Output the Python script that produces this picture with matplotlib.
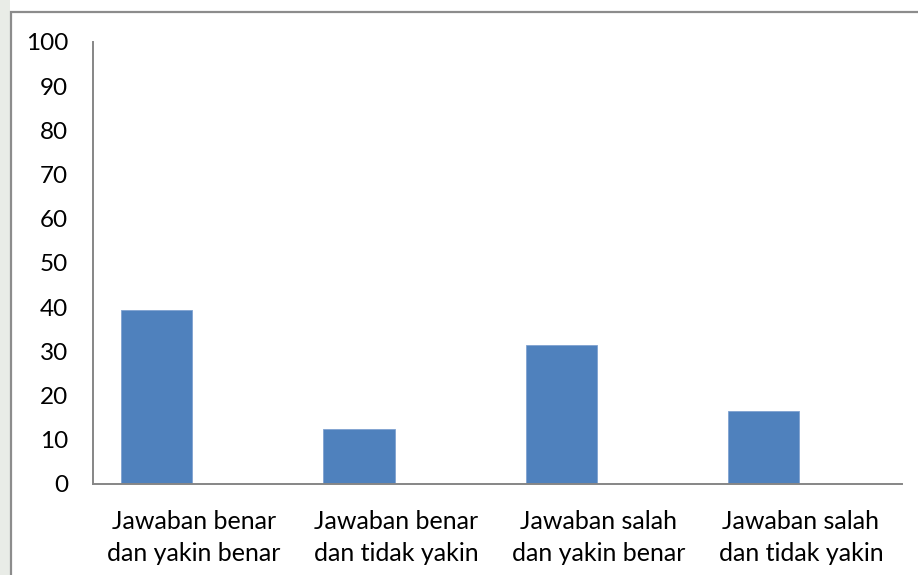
import matplotlib.pyplot as plt
from matplotlib.patches import Rectangle

categories = [
    "Jawaban benar\ndan yakin benar",
    "Jawaban benar\ndan tidak yakin",
    "Jawaban salah\ndan yakin benar",
    "Jawaban salah\ndan tidak yakin",
]
percentages = [39.4, 12.4, 31.4, 16.6]
y_ticks = [0, 10, 20, 30, 40, 50, 60, 70, 80, 90, 100]

BAR_COLOR = "#4f81bd"
AXIS_COLOR = "#868686"
TEXT_COLOR = "#000000"

plt.rcParams["font.family"] = ["Lato", "DejaVu Sans"]

fig = plt.figure(figsize=(9.18, 5.75), dpi=100)
fig.patch.set_facecolor("white")

# page strip left of the chart frame
fig.add_artist(Rectangle((0, 0), 0.011, 1, transform=fig.transFigure,
                         facecolor="#e9ece7", edgecolor="none", zorder=0))
# chart frame (runs off the right and bottom edges)
fig.add_artist(Rectangle((0.012, -0.05), 1.05, 1.05 - 0.021, transform=fig.transFigure,
                         facecolor="white", edgecolor="#8c8c8c", linewidth=1.6, zorder=1))

ax = fig.add_axes([0.1013, 0.1583, 0.8813, 0.7687])
ax.set_facecolor("none")
ax.set_zorder(2)

x = list(range(len(categories)))
ax.bar([i - 0.185 for i in x], percentages, width=0.353, color=BAR_COLOR,
       edgecolor="#7fa2d0", linewidth=0.6)

ax.set_xlim(-0.5, len(categories) - 0.5)
ax.set_ylim(0, 100)
ax.set_yticks(y_ticks)
ax.set_xticks(x)
ax.set_xticklabels(categories, linespacing=1.45, fontsize=18)

for side in ("top", "right"):
    ax.spines[side].set_visible(False)
for side in ("left", "bottom"):
    ax.spines[side].set_color(AXIS_COLOR)
    ax.spines[side].set_linewidth(1.4)

ax.tick_params(axis="both", length=0, colors=TEXT_COLOR)
ax.tick_params(axis="y", pad=18, labelsize=17.5)
ax.tick_params(axis="x", pad=19)

fig.savefig("out.png", dpi=100, facecolor="white")
